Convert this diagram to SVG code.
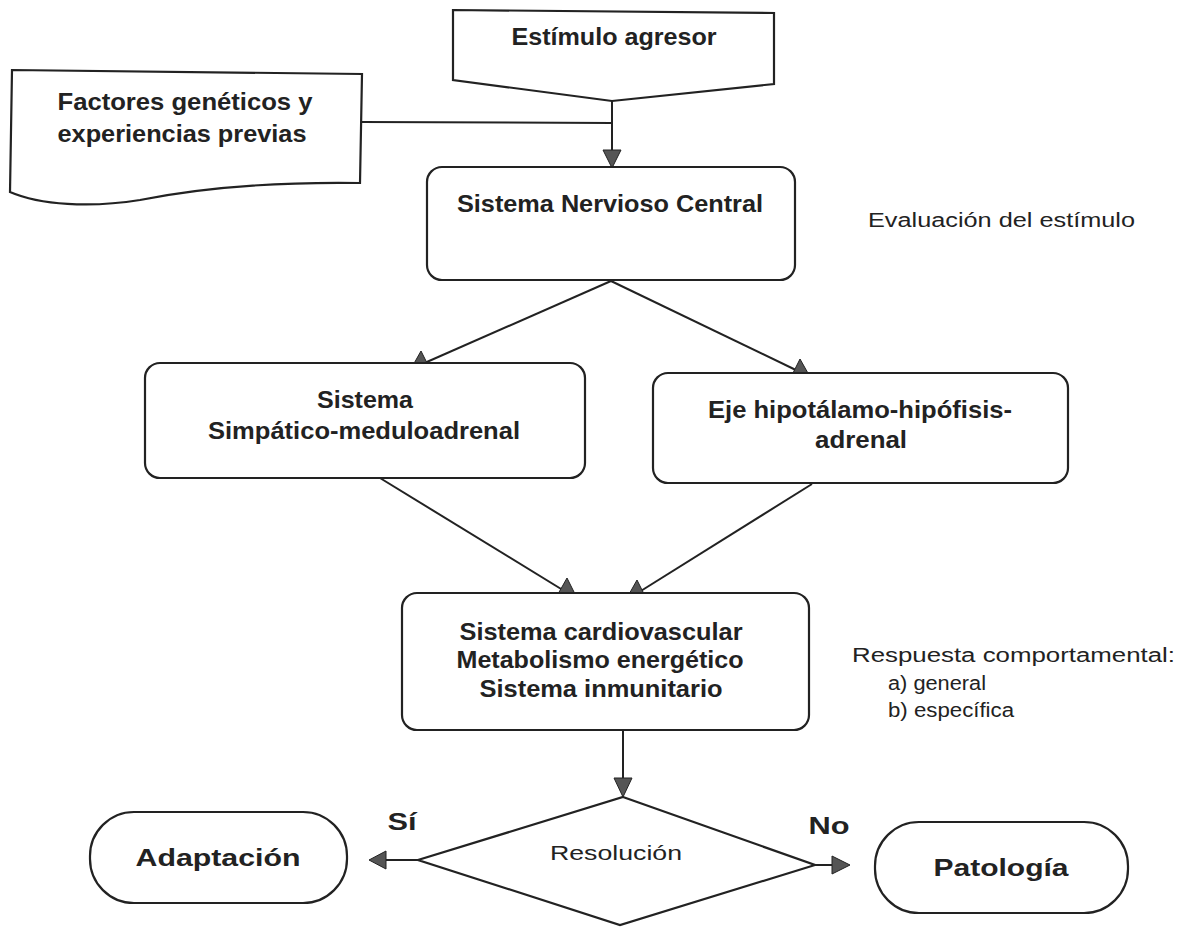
<svg xmlns="http://www.w3.org/2000/svg" width="1178" height="930" viewBox="0 0 1178 930">
<style>
.shape{fill:#fff;stroke:#222;stroke-width:2.2}
.conn{fill:none;stroke:#222;stroke-width:2}
.head{fill:#555;stroke:#222;stroke-width:1}
.b{font-family:"Liberation Sans",Arial,sans-serif;font-weight:bold;font-size:24px;fill:#222;text-anchor:middle}
.r{font-family:"Liberation Sans",Arial,sans-serif;font-size:20px;fill:#222}
</style>
<rect width="1178" height="930" fill="#fff"/>
<g id="connectors">
<line class="conn" x1="612" y1="100" x2="612" y2="152"/>
<line class="conn" x1="361" y1="122" x2="612" y2="123"/>
<polygon class="head" points="603,150 621,150 612,168"/>
<line class="conn" x1="611" y1="281" x2="420" y2="365"/>
<polygon class="head" points="412,367 429,367 421,351"/>
<line class="conn" x1="611" y1="281" x2="800" y2="372"/>
<polygon class="head" points="792,375 809,375 800,359"/>
<line class="conn" x1="380" y1="478" x2="566" y2="592"/>
<polygon class="head" points="558,594 575,594 567,578"/>
<line class="conn" x1="812" y1="484" x2="636" y2="594"/>
<polygon class="head" points="628,596 645,596 637,580"/>
<line class="conn" x1="623" y1="730" x2="623" y2="780"/>
<polygon class="head" points="614,778 632,778 623,797"/>
<line class="conn" x1="418" y1="860" x2="385" y2="860"/>
<polygon class="head" points="386,851 386,869 369,860"/>
<line class="conn" x1="815" y1="865" x2="834" y2="865"/>
<polygon class="head" points="832,856 832,874 850,865"/>
</g>
<g id="estimulo">
<polygon class="shape" points="453,10 774,13 774,84 612,101 453,80"/>
<text class="b" x="614" y="45" textLength="205" lengthAdjust="spacingAndGlyphs">Estímulo agresor</text>
</g>
<g id="factores">
<path class="shape" d="M12,70 L362,74 L360,183 C290,182 210,186 140,200 C90,208 40,205 10,192 Z"/>
<text class="b" x="185" y="110" textLength="255" lengthAdjust="spacingAndGlyphs">Factores genéticos y</text>
<text class="b" x="182" y="142" textLength="249" lengthAdjust="spacingAndGlyphs">experiencias previas</text>
</g>
<g id="snc">
<rect class="shape" x="427" y="167" width="368" height="113" rx="15"/>
<text class="b" x="610" y="212" textLength="306" lengthAdjust="spacingAndGlyphs">Sistema Nervioso Central</text>
</g>
<text class="r" x="868" y="227" textLength="267" lengthAdjust="spacingAndGlyphs">Evaluación del estímulo</text>
<g id="simpatico">
<rect class="shape" x="145" y="363" width="440" height="115" rx="15"/>
<text class="b" x="365" y="408" textLength="96" lengthAdjust="spacingAndGlyphs">Sistema</text>
<text class="b" x="364" y="439" textLength="312" lengthAdjust="spacingAndGlyphs">Simpático-meduloadrenal</text>
</g>
<g id="eje">
<rect class="shape" x="653" y="373" width="415" height="110" rx="15"/>
<text class="b" x="860" y="418" textLength="304" lengthAdjust="spacingAndGlyphs">Eje hipotálamo-hipófisis-</text>
<text class="b" x="861" y="448" textLength="92" lengthAdjust="spacingAndGlyphs">adrenal</text>
</g>
<g id="cardio">
<rect class="shape" x="402" y="593" width="407" height="137" rx="15"/>
<text class="b" x="601" y="640" textLength="283" lengthAdjust="spacingAndGlyphs">Sistema cardiovascular</text>
<text class="b" x="600" y="668" textLength="287" lengthAdjust="spacingAndGlyphs">Metabolismo energético</text>
<text class="b" x="601" y="697" textLength="243" lengthAdjust="spacingAndGlyphs">Sistema inmunitario</text>
</g>
<g id="respuesta">
<text class="r" x="852" y="662" textLength="323" lengthAdjust="spacingAndGlyphs">Respuesta comportamental:</text>
<text class="r" x="888" y="690" textLength="98" lengthAdjust="spacingAndGlyphs">a) general</text>
<text class="r" x="888" y="717" textLength="126" lengthAdjust="spacingAndGlyphs">b) específica</text>
</g>
<g id="resolucion">
<polygon class="shape" points="623,797 815,865 620,925 418,860"/>
<text class="r" x="616" y="860" text-anchor="middle" textLength="132" lengthAdjust="spacingAndGlyphs">Resolución</text>
</g>
<text class="b" x="402" y="830" textLength="29" lengthAdjust="spacingAndGlyphs">Sí</text>
<text class="b" x="829" y="834" textLength="41" lengthAdjust="spacingAndGlyphs">No</text>
<g id="adaptacion">
<rect class="shape" x="90" y="812" width="257" height="91" rx="44"/>
<text class="b" x="218" y="866" font-size="28" textLength="165" lengthAdjust="spacingAndGlyphs">Adaptación</text>
</g>
<g id="patologia">
<rect class="shape" x="875" y="822" width="253" height="91" rx="44"/>
<text class="b" x="1001" y="876" font-size="28" textLength="135" lengthAdjust="spacingAndGlyphs">Patología</text>
</g>
</svg>
